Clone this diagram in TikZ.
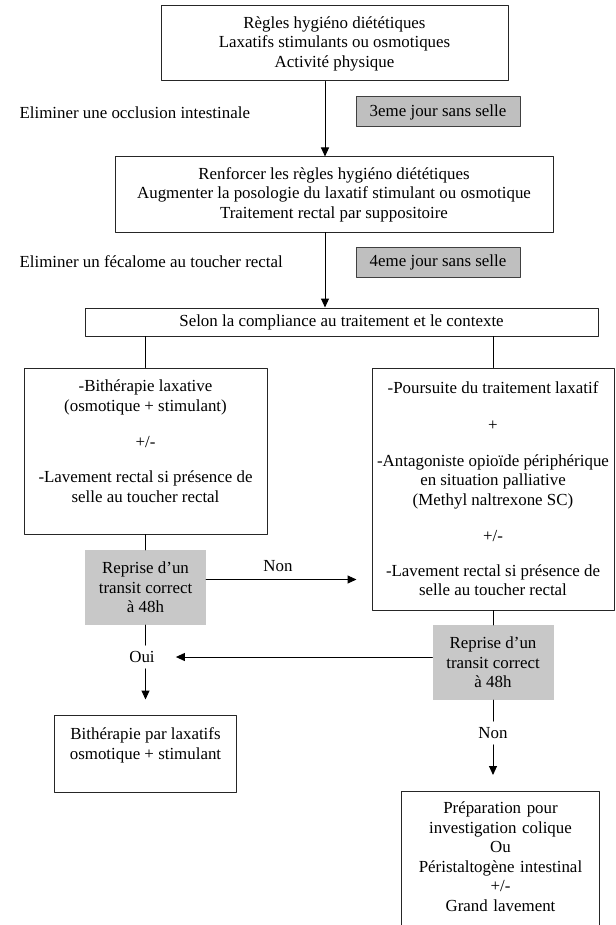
\documentclass[tikz,border=0pt]{standalone}
\usepackage{fontspec}
\setmainfont{Liberation Serif}
\usetikzlibrary{arrows.meta}
\definecolor{grisfond}{RGB}{191,191,191}
\definecolor{grisreprise}{RGB}{200,200,200}

\begin{document}
\begin{tikzpicture}[x=1pt, y=-1pt, line cap=round, line join=round,
	font=\fontsize{16.9}{19.5}\selectfont,
	box/.style={draw=black!85, line width=1pt, inner sep=0pt, align=center},
	graybox/.style={draw=black!75, line width=1pt, fill=grisfond, inner sep=0pt, minimum width=164pt, minimum height=30pt},
	reprise/.style={fill=grisreprise, inner sep=0pt, align=center, minimum width=121pt, minimum height=75pt},
	arrow/.style={-{Triangle[length=9pt, width=8pt]}, line width=1pt}]
	\useasboundingbox (0,0) rectangle (615,925);
	\coordinate (axe) at (325,0);
	\node[box, minimum width=347pt, minimum height=75pt] (regles) at (334.5,43.5) {Règles hygiéno diététiques\\Laxatifs stimulants ou osmotiques\\Activité physique};
	\node[anchor=west] (occlusion) at (16,113) {Eliminer une occlusion intestinale};
	\node[graybox] (jour3) at (438,112) {3eme jour sans selle};
	\node[box, minimum width=438pt, minimum height=75pt] (renforcer) at (334,194.5) {Renforcer les règles hygiéno diététiques\\Augmenter la posologie du laxatif stimulant ou osmotique\\Traitement rectal par suppositoire};
	\node[anchor=west] (fecalome) at (16,262) {Eliminer un fécalome au toucher rectal};
	\node[graybox] (jour4) at (438,262) {4eme jour sans selle};
	\node[box, minimum width=513pt, minimum height=28pt] (selon) at (341.5,322) {Selon la compliance au traitement et le contexte};
	\node[box, minimum width=243pt, minimum height=166pt] (bitherapie) at (145.5,451) {-Bithérapie laxative\\(osmotique + stimulant)\\[17pt]+/-\\[15.5pt]-Lavement rectal si présence de\\selle au toucher rectal\\ \mbox{}};
	\node[box, minimum width=242pt, minimum height=242pt] (poursuite) at (493,489) {-Poursuite du traitement laxatif\\[17pt]+\\[16.5pt]-Antagoniste opioïde périphérique\\en situation palliative\\(Methyl naltrexone SC)\\[16.5pt]+/-\\[15.5pt]-Lavement rectal si présence de\\selle au toucher rectal};
	\node[reprise] (repriseA) at (145.5,587.5) {Reprise d’un\\transit correct\\à 48h};
	\node (nonA) at (278,566) {Non};
	\node[reprise] (repriseB) at (493,662.5) {Reprise d’un\\transit correct\\à 48h};
	\node[inner sep=6pt] (oui) at (142,657) {Oui};
	\node[box, minimum width=182pt, minimum height=77pt] (bithlax) at (145.5,753.5) {Bithérapie par laxatifs\\osmotique + stimulant\\ \mbox{}};
	\node[inner sep=6pt] (nonB) at (493,733) {Non};
	\node[anchor=north, inner xsep=0pt, inner ysep=11pt, text width=197pt, align=center] (preparation) at (500.5,791) {Préparation pour\\investigation colique\\Ou\\Péristaltogène intestinal\\+/-\\Grand lavement};

	\draw[arrow] (regles.south -| axe) -- (renforcer.north -| axe);
	\draw[arrow] (renforcer.south -| axe) -- (selon.north -| axe);
	\draw[line width=1pt] (selon.south -| bitherapie) -- (bitherapie.north);
	\draw[line width=1pt] (selon.south -| poursuite) -- (poursuite.north);
	\draw[line width=1pt] (bitherapie.south) -- (repriseA.north);
	\draw[arrow, shorten >=15pt] ([yshift=8pt]repriseA.east) -- ([yshift=8pt]repriseA.east -| poursuite.west);
	\draw[line width=1pt] (poursuite.south) -- (repriseB.north);
	\draw[arrow, shorten >=15pt] (repriseB.west |- oui) -- (oui.east);
	\draw[line width=1pt] (repriseA.south) -- (repriseA.south |- oui.north);
	\draw[arrow, shorten >=15pt] (repriseA.south |- oui.south) -- (bithlax.north);
	\draw[line width=1pt] (repriseB.south) -- (repriseB.south |- nonB.north);
	\draw[arrow, shorten >=16pt] (nonB.south) -- (nonB.south |- preparation.north);
	\draw[draw=black!85, line width=1pt] ([yshift=-30pt]preparation.south west) |- (preparation.north east) -- ([yshift=-30pt]preparation.south east);
\end{tikzpicture}
\end{document}
